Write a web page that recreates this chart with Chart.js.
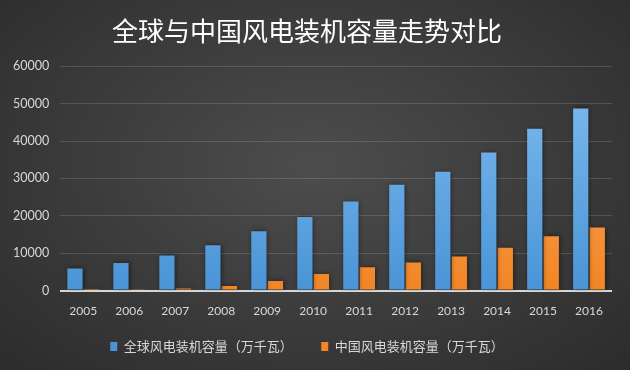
<!DOCTYPE html>
<html>
<head>
<meta charset="utf-8">
<script src="https://cdn.jsdelivr.net/npm/chart.js@4"></script>
<style>
  html, body { margin: 0; padding: 0; }
  body {
    width: 630px; height: 370px; overflow: hidden;
    background: radial-gradient(ellipse at 50% 45%, #4d4d4d 0%, #3e3e3e 45%, #2c2c2c 100%);
  }
  #wrap { position: relative; width: 630px; height: 370px; }
</style>
</head>
<body>
<div id="wrap"><canvas id="chart"></canvas></div>
<script>
// data
const years = ['2005', '2006', '2007', '2008', '2009', '2010', '2011', '2012', '2013', '2014', '2015', '2016'];
const globalCap = [5900, 7400, 9400, 12100, 15900, 19700, 23800, 28300, 31800, 36900, 43300, 48700];
const chinaCap = [130, 260, 590, 1220, 2580, 4470, 6270, 7530, 9140, 11460, 14510, 16870];
const seriesNames = ['全球风电装机容量（万千瓦）', '中国风电装机容量（万千瓦）'];
const chartTitle = '全球与中国风电装机容量走势对比';

const cjk = '"Noto Sans CJK SC", "Noto Sans", sans-serif';

// vertical gradient for bars
function barGradient(top, bottom) {
  return (ctx) => {
    const area = ctx.chart.chartArea;
    if (!area) return bottom;
    const g = ctx.chart.ctx.createLinearGradient(0, area.top, 0, area.bottom);
    g.addColorStop(0, top);
    g.addColorStop(1, bottom);
    return g;
  };
}

// soft dark shadow behind bars
const barShadow = {
  id: 'barShadow',
  beforeDatasetsDraw(chart) {
    const c = chart.ctx;
    c.save();
    c.shadowColor = 'rgba(0,0,0,0.55)';
    c.shadowBlur = 5;
    c.shadowOffsetX = 1;
    c.shadowOffsetY = 0;
  },
  afterDatasetsDraw(chart) {
    chart.ctx.restore();
  }
};

new Chart(document.getElementById('chart'), {
  type: 'bar',
  data: {
    labels: years,
    datasets: [
      {
        label: seriesNames[0] + '\u3000\u3000',
        data: globalCap,
        backgroundColor: barGradient('#80bdf0', '#4a94d6'),
        categoryPercentage: 0.72,
        barPercentage: 0.92
      },
      {
        label: seriesNames[1],
        data: chinaCap,
        backgroundColor: barGradient('#fbb070', '#f28524'),
        categoryPercentage: 0.72,
        barPercentage: 0.92
      }
    ]
  },
  options: {
    responsive: true,
    maintainAspectRatio: false,
    animation: false,
    layout: { padding: { left: 2, right: 18, top: 0, bottom: 7 } },
    plugins: {
      title: {
        display: true,
        text: chartTitle,
        color: '#ffffff',
        font: { family: cjk, size: 26, weight: 'normal' },
        padding: { top: 16, bottom: 19 }
      },
      legend: {
        position: 'bottom',
        labels: {
          color: '#d8d8d8',
          font: { family: cjk, size: 13 },
          boxWidth: 7,
          boxHeight: 9,
          padding: 9
        }
      },
      tooltip: { enabled: false }
    },
    scales: {
      x: {
        grid: { display: false, drawTicks: false },
        border: { display: false },
        ticks: { color: '#d8d8d8', font: { family: 'Lato, sans-serif', size: 12 }, padding: 13 }
      },
      y: {
        min: 0,
        max: 60000,
        ticks: {
          stepSize: 10000,
          color: '#d8d8d8',
          font: { family: 'Lato, sans-serif', size: 12.5 },
          padding: 11,
          callback: (v) => String(v)
        },
        border: { display: false },
        grid: {
          drawTicks: false,
          color: (ctx) => ctx.tick && ctx.tick.value === 0 ? '#d6d6d6' : 'rgba(255,255,255,0.14)',
          lineWidth: (ctx) => ctx.tick && ctx.tick.value === 0 ? 2 : 1
        }
      }
    }
  },
  plugins: [barShadow]
});
</script>
</body>
</html>
